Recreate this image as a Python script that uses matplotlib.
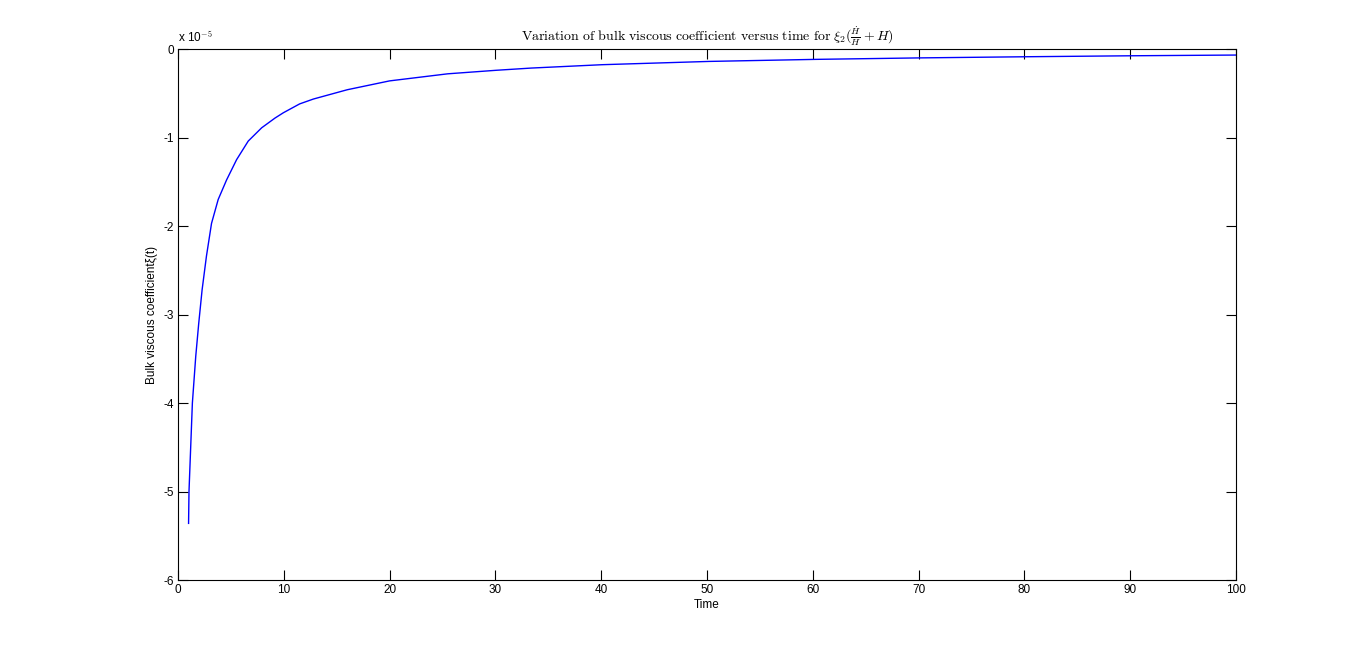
import matplotlib.pyplot as plt

# values (xi in units of 1e-5)
time = [1.0, 1.04, 1.36, 1.68, 1.96, 2.28, 2.69, 3.17, 3.80, 4.59, 5.54, 6.64,
        7.91, 9.17, 9.96, 11.5, 12.8, 16.0, 20.0, 25.5, 30.1, 33.4, 40.1,
        50.2, 60.2, 70.2, 80.3, 90.3, 100.0]
xi = [-5.36, -5.0, -4.0, -3.47, -3.10, -2.72, -2.34, -1.97, -1.70, -1.48, -1.25, -1.04,
      -0.89, -0.78, -0.72, -0.62, -0.565, -0.46, -0.36, -0.28, -0.24, -0.215, -0.177,
      -0.14, -0.117, -0.10, -0.087, -0.076, -0.068]

xticks = list(range(0, 101, 10))
yticks = [0, -1, -2, -3, -4, -5, -6]

plt.rcParams['font.family'] = ['Liberation Sans', 'DejaVu Sans']
plt.rcParams['mathtext.fontset'] = 'cm'
plt.rcParams['axes.unicode_minus'] = False

fig = plt.figure(figsize=(13.66, 6.52), dpi=100)
ax = fig.add_axes([0.1303, 0.1104, 0.7745, 0.8144])

ax.plot(time, xi, color=(0, 0, 1), linewidth=1)

ax.set_xlim(0, 100)
ax.set_ylim(-6, 0)
ax.set_xticks(xticks)
ax.set_yticks(yticks)
ax.tick_params(direction='in', length=7.5, width=0.8, labelsize=8.5,
               top=True, right=True, pad=3)
for s in ax.spines.values():
    s.set_linewidth(0.8)

ax.text(0, 1.006, r'x 10$^{\mathsf{-5}}$', transform=ax.transAxes, fontsize=8.5,
        ha='left', va='bottom')

ax.set_xlabel('Time', fontsize=8.5, labelpad=2)
ax.set_ylabel('Bulk viscous coefficientξ(t)', fontsize=8.5, labelpad=4)
ax.set_title(r'$\mathrm{Variation\ of\ bulk\ viscous\ coefficient\ versus\ time\ for\ }'
             r'\xi_2(\frac{\dot{H}}{H}+H)$', fontsize=10, pad=6)

fig.savefig('out.png', dpi=100)
